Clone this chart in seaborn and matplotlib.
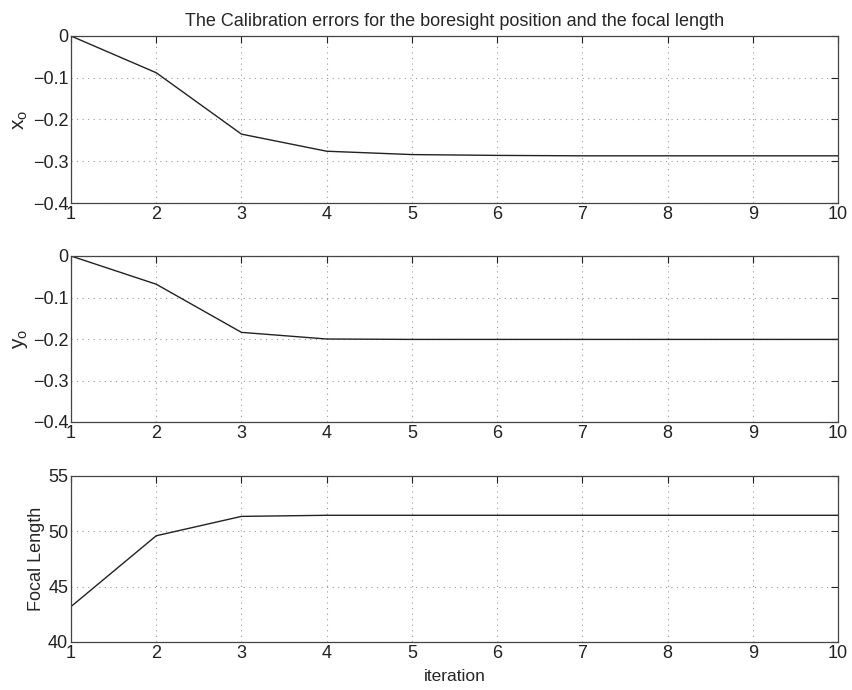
import matplotlib
matplotlib.use("Agg")
import matplotlib.pyplot as plt
import seaborn as sns
import pandas as pd

iterations = [1, 2, 3, 4, 5, 6, 7, 8, 9, 10]
x_o = [0.0, -0.088, -0.235, -0.276, -0.284, -0.286, -0.287, -0.287, -0.287, -0.287]
y_o = [0.0, -0.068, -0.184, -0.200, -0.201, -0.201, -0.201, -0.201, -0.201, -0.201]
focal = [43.2, 49.6, 51.35, 51.45, 51.45, 51.45, 51.45, 51.45, 51.45, 51.45]

sns.set_style("white")
plt.rcParams['font.family'] = ['Liberation Sans', 'DejaVu Sans']
plt.rcParams['mathtext.fontset'] = 'custom'
plt.rcParams['mathtext.rm'] = 'Liberation Sans'
plt.rcParams['mathtext.it'] = 'Liberation Sans'

fig = plt.figure(figsize=(8.52, 6.9), dpi=100)
W, H = 852, 690
left, right = 71, 838
boxes = [(36, 203), (256, 422), (476, 642)]
series = [x_o, y_o, focal]
ylabels = [r'x$_\mathregular{o}$', r'y$_\mathregular{o}$', 'Focal Length']
ylabel_sizes = [15, 15, 13]
ylims = [(-0.4, 0), (-0.4, 0), (40, 55)]
yticks = [[-0.4, -0.3, -0.2, -0.1, 0], [-0.4, -0.3, -0.2, -0.1, 0], [40, 45, 50, 55]]
yticklabels = [['\u22120.4', '\u22120.3', '\u22120.2', '\u22120.1', '0'],
               ['\u22120.4', '\u22120.3', '\u22120.2', '\u22120.1', '0'],
               ['40', '45', '50', '55']]

axes = []
for (top, bot), vals, yl, ys, lim, yt, ytl in zip(boxes, series, ylabels, ylabel_sizes, ylims, yticks, yticklabels):
    ax = fig.add_axes([left / W, 1 - bot / H, (right - left) / W, (bot - top) / H])
    df = pd.DataFrame({'iteration': iterations, 'value': vals})
    sns.lineplot(data=df, x='iteration', y='value', ax=ax, color='#222222', linewidth=1.0)
    ax.set_xlim(1, 10)
    ax.set_ylim(*lim)
    ax.set_xticks(iterations)
    ax.set_xticklabels([str(i) for i in iterations], fontsize=13)
    ax.set_yticks(yt)
    ax.set_yticklabels(ytl, fontsize=13)
    ax.set_ylabel(yl, fontsize=ys, labelpad=2)
    ax.set_xlabel('')
    ax.grid(True, linestyle=(0, (1, 4)), color='#999999', linewidth=0.8)
    ax.tick_params(direction='in', top=True, right=True, length=5, width=0.8, pad=2, colors='#222222')
    for s in ax.spines.values():
        s.set_color('#444444')
        s.set_linewidth(0.9)
    axes.append(ax)

axes[0].set_title('The Calibration errors for the boresight position and the focal length', fontsize=13, pad=7)
axes[2].set_xlabel('iteration', fontsize=12.5, labelpad=5)

fig.savefig('out.png', dpi=100)
